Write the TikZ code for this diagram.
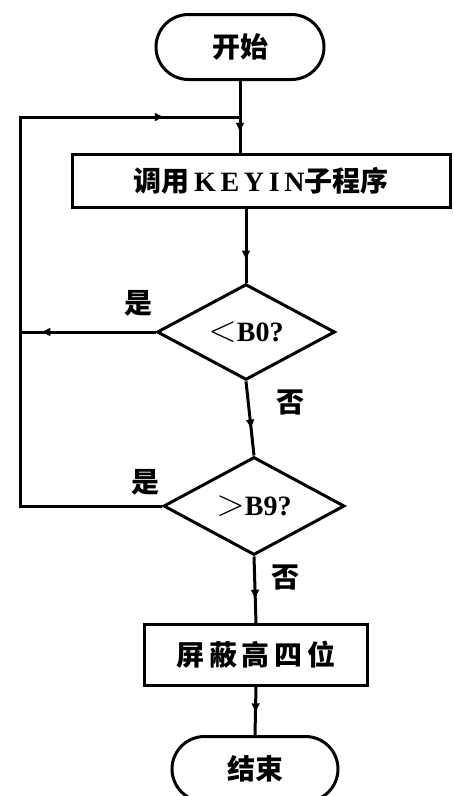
\documentclass[tikz,border=0pt]{standalone}
\usepackage{fontspec}
\setmainfont{Liberation Serif}
\newfontfamily\cjk{Noto Sans CJK SC}
\usetikzlibrary{shapes.misc,shapes.geometric,arrows.meta,decorations.markings}
\tikzset{
  base/.style={draw=black, line width=3pt, inner sep=0pt, font=\fontsize{28}{28}\selectfont\bfseries},
  term/.style={base, rounded rectangle},
  proc/.style={base, rectangle},
  dec/.style={base, diamond},
  conn/.style={line width=3pt},
  midarrow/.style={postaction={decorate}, decoration={markings, mark=at position #1 with {\arrow{Latex[length=10pt,width=9pt]}}}},
  lab/.style={font=\fontsize{28}{28}\selectfont\bfseries\cjk}
}
\begin{document}
\begin{tikzpicture}[x=1pt,y=-1pt]
\useasboundingbox (0,0) rectangle (454,796);
\fill[white] (0,0) rectangle (454,796);
% nodes
\node[term, minimum width=168pt, minimum height=65pt] (start) at (240,47) {\cjk 开始};
\node[proc, minimum width=378pt, minimum height=53pt] (box1) at (261,181) {\cjk 调用\rmfamily\,K\,E\,Y\,I\,N\cjk 子程序};
\node[dec, minimum width=178pt, minimum height=95pt] (d1) at (246,332) {\rmfamily\scalebox{1.5}{$<$}B0?};
\node[dec, minimum width=181pt, minimum height=98pt] (d2) at (254,506) {\rmfamily\scalebox{1.5}{$>$}B9?};
\node[proc, minimum width=223pt, minimum height=61pt] (box2) at (256,655) {\cjk 屏\,蔽\,高\,四\,位};
\node[term, minimum width=166pt, minimum height=65pt] (end) at (255,769) {\cjk 结束};
% coordinates
\coordinate (j) at (start.south |- 0,117);
\coordinate (lt) at (20,117);
\coordinate (lb) at (20,0 |- d2.west);
\coordinate (lm) at (20,0 |- d1.west);
% connectors
\draw[conn, midarrow=0.72] (start.south) -- (start.south |- box1.north);
\draw[conn, midarrow=0.9] (d2.west) -- (lb) -- (lt) -- (j);
\draw[conn, midarrow=0.85] (d1.west) -- (lm);
\draw[conn, midarrow=0.7] (d1.north |- box1.south) -- (d1.north);
\draw[conn, midarrow=0.65] (d1.south) -- (d2.north);
\draw[conn, midarrow=0.65] (d2.south) -- (box2.north);
\draw[conn, midarrow=0.55] (box2.south) -- (end.north);
% labels
\node[lab] (y1) at (138,303) {是};
\node[lab] (n1) at (290,402) {否};
\node[lab] (y2) at (145,482) {是};
\node[lab] (n2) at (285,577) {否};
\end{tikzpicture}
\end{document}
